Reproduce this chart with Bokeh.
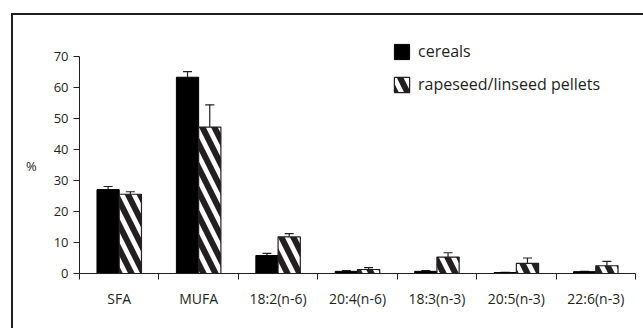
from bokeh.plotting import figure
from bokeh.models import (ColumnDataSource, Range1d, FixedTicker, Whisker, TeeHead,
                          Legend, LegendItem, InlineStyleSheet)
from bokeh.transform import dodge
from bokeh.embed import file_html
from bokeh.resources import INLINE

categories = ["SFA", "MUFA", "18:2(n-6)", "20:4(n-6)", "18:3(n-3)", "20:5(n-3)", "22:6(n-3)"]
cereals = [27.1, 63.4, 5.8, 0.7, 0.7, 0.3, 0.6]
cereals_err = [1.0, 1.8, 0.7, 0.2, 0.2, 0.1, 0.1]
pellets = [25.6, 47.3, 11.8, 1.3, 5.3, 3.3, 2.5]
pellets_err = [0.8, 7.2, 1.1, 0.6, 1.4, 1.7, 1.4]
y_ticks = [0, 10, 20, 30, 40, 50, 60, 70]

INK = "#231f20"
FONT = "Open Sans"

n = len(categories)
pos = [i + 0.5 for i in range(n)]
src = ColumnDataSource(dict(
    pos=pos, cat=categories,
    c=cereals, c_lo=[v - e for v, e in zip(cereals, cereals_err)], c_hi=[v + e for v, e in zip(cereals, cereals_err)],
    p=pellets, p_lo=[v - e for v, e in zip(pellets, pellets_err)], p_hi=[v + e for v, e in zip(pellets, pellets_err)],
))

TOP = 30
BOTTOM = 55
px_per_unit = 216.7 / 70.0
y_end = (328 - BOTTOM - TOP) / px_per_unit

p = figure(width=643, height=328, x_range=Range1d(0, n), y_range=Range1d(0, y_end),
           output_backend="svg", toolbar_location=None,
           min_border_left=79, min_border_right=8, min_border_top=TOP, min_border_bottom=BOTTOM)
p.outline_line_color = None
p.xgrid.grid_line_color = None
p.ygrid.grid_line_color = None
p.background_fill_color = None
p.border_fill_color = "white"

W = 0.28
r1 = p.vbar(x=dodge("pos", -W / 2), top="c", width=W, source=src,
            fill_color="black", line_color="black", line_width=1)
r2 = p.vbar(x=dodge("pos", W / 2), top="p", width=W, source=src,
            fill_color="white", line_color=INK, line_width=1.2,
            hatch_pattern="left_diagonal_line", hatch_color=INK, hatch_scale=24, hatch_weight=6)

for base, lo, hi in [(-W / 2, "c_lo", "c_hi"), (W / 2, "p_lo", "p_hi")]:
    w = Whisker(base=dodge("pos", base), lower=lo, upper=hi, source=src,
                line_color=INK, line_width=1.2,
                upper_head=TeeHead(size=9, line_color=INK, line_width=1.2),
                lower_head=TeeHead(size=9, line_color=INK, line_width=1.2))
    p.add_layout(w)

# y axis
ya = p.yaxis[0]
ya.ticker = FixedTicker(ticks=y_ticks)
ya.bounds = (0, 70)
ya.minor_tick_line_color = None
ya.major_tick_in = 0
ya.major_tick_out = 6
ya.axis_line_color = INK
ya.major_tick_line_color = INK
ya.major_label_text_font = FONT
ya.major_label_text_font_size = "13px"
ya.major_label_text_color = INK
ya.major_label_standoff = 5
ya.axis_label = "\n\n%"
ya.axis_label_text_font = FONT
ya.axis_label_text_font_size = "13px"
ya.axis_label_text_line_height = 0.75
ya.axis_label_text_font_style = "normal"
ya.axis_label_text_color = INK
ya.axis_label_standoff = 14
if "axis_label_orientation" in ya.properties():
    ya.axis_label_orientation = "horizontal"

# x axis: labels at category centres, ticks at category boundaries
xa = p.xaxis[0]
xa.ticker = FixedTicker(ticks=pos, minor_ticks=list(range(n + 1)))
xa.major_label_overrides = {v: c for v, c in zip(pos, categories)}
xa.major_tick_line_color = None
xa.major_tick_in = 0
xa.major_tick_out = 6
xa.minor_tick_in = 0
xa.minor_tick_out = 6
xa.minor_tick_line_color = INK
xa.axis_line_color = INK
xa.major_label_text_font = FONT
xa.major_label_text_font_size = "14px"
xa.major_label_text_color = INK
xa.major_label_standoff = 9

legend = Legend(items=[LegendItem(label="cereals", renderers=[r1]),
                       LegendItem(label="rapeseed/linseed pellets", renderers=[r2])],
                location=(313, 178), padding=0, margin=0, spacing=11,
                glyph_width=19, glyph_height=19, label_height=22, label_standoff=7,
                label_text_font=FONT, label_text_font_size="16px", label_text_color=INK,
                background_fill_alpha=0, border_line_color=None)
p.add_layout(legend)

# outer frame of the figure panel (left and top edges visible)
p.stylesheets = [InlineStyleSheet(css=(
    ":host::after { content: ''; position: absolute; left: 11px; top: 13px; "
    "width: calc(100% - 11px); height: calc(100% - 13px); box-sizing: border-box; "
    "border-left: 2.5px solid #231f20; border-top: 2.5px solid #231f20; pointer-events: none; }"
))]

open("out.html", "w").write(file_html(p, INLINE))
